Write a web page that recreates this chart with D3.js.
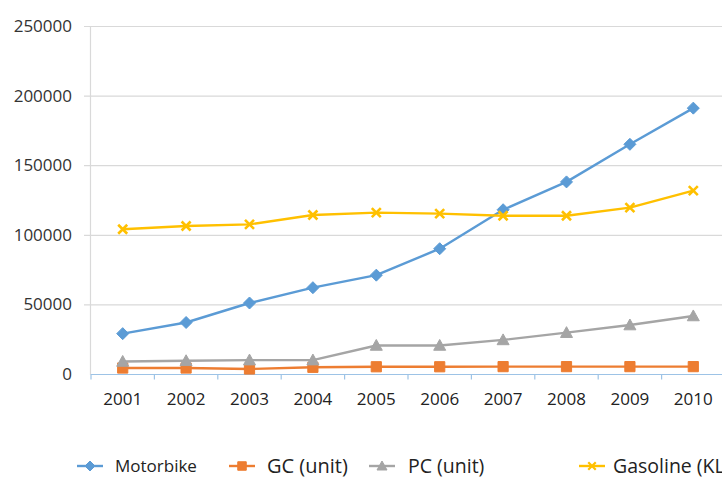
<!DOCTYPE html>
<html>
<head>
<meta charset="utf-8">
<script src="https://cdn.jsdelivr.net/npm/d3@7"></script>
<style>
  html, body { margin: 0; padding: 0; background: #fff; }
  svg { display: block; font-family: "Open Sans", "Noto Sans", sans-serif; }
</style>
</head>
<body>
<svg id="chart" width="722" height="479"></svg>
<script>
const years = ["2001","2002","2003","2004","2005","2006","2007","2008","2009","2010"];
const motorbike = [29000, 37000, 51000, 62000, 71000, 90000, 118000, 138000, 165000, 191000];
const gc = [4300, 4300, 3600, 4800, 5200, 5200, 5300, 5300, 5300, 5300];
const pc = [9000, 9500, 10000, 10000, 20500, 20500, 24500, 29700, 35200, 41700];
const gasoline = [104000, 106300, 107500, 114200, 115900, 115200, 113700, 113700, 119500, 131700];
const yTicks = [0, 50000, 100000, 150000, 200000, 250000];
const seriesNames = ["Motorbike", "GC (unit)", "PC (unit)", "Gasoline (KL)"];

const series = [
  { name: seriesNames[0], values: motorbike, color: "#5B9BD5", marker: "diamond" },
  { name: seriesNames[1], values: gc, color: "#ED7D31", marker: "square" },
  { name: seriesNames[2], values: pc, color: "#A5A5A5", marker: "triangle" },
  { name: seriesNames[3], values: gasoline, color: "#FFC000", marker: "x" }
];

const svg = d3.select("#chart");
const pLeft = 91, pRight = 725, pTop = 26, pBottom = 374;

const x = d3.scaleBand().domain(years).range([pLeft, pRight]);
const y = d3.scaleLinear().domain([0, 250000]).range([pBottom, pTop]);

// gridlines
svg.append("g").selectAll("line").data(yTicks.filter(d => d > 0)).join("line")
  .attr("x1", 84).attr("x2", 722)
  .attr("y1", d => y(d) + 0.5).attr("y2", d => y(d) + 0.5)
  .attr("stroke", "#d9d9d9").attr("stroke-width", 1.2);

// y axis line
svg.append("line").attr("x1", pLeft - 0.5).attr("x2", pLeft - 0.5)
  .attr("y1", pTop).attr("y2", pBottom + 1)
  .attr("stroke", "#d9d9d9").attr("stroke-width", 1.2);

// y tick labels
svg.append("g").selectAll("text").data(yTicks).join("text")
  .attr("x", 72).attr("y", d => y(d))
  .attr("dy", "0.35em").attr("text-anchor", "end")
  .attr("font-size", 17).attr("fill", "#333")
  .text(d => d);

// x axis
const xAxis = d3.axisBottom(x).tickSize(5).tickSizeOuter(0).tickPadding(13);
const gx = svg.append("g").attr("transform", `translate(0,${pBottom + 0.5})`);
gx.call(xAxis);
gx.select(".domain").attr("stroke", "#9DC3E6").attr("stroke-width", 1.2)
  .attr("d", `M${pLeft},0H722`);
gx.selectAll(".tick line").remove();
gx.selectAll("line.bt").data(years.map((d, i) => i)).join("line").attr("class", "bt")
  .attr("x1", i => x(years[i])).attr("x2", i => x(years[i]))
  .attr("y1", 0).attr("y2", 5)
  .attr("stroke", "#9DC3E6").attr("stroke-width", 1.2);
gx.selectAll(".tick text").attr("font-size", 17).attr("fill", "#222")
  .attr("font-family", "'Open Sans', sans-serif");

const cx = d => x(d) + x.bandwidth() / 2;

// markers
function markerPath(m, r) {
  const p = d3.path();
  if (m === "diamond") {
    p.moveTo(0, -r); p.lineTo(r, 0); p.lineTo(0, r); p.lineTo(-r, 0); p.closePath();
  } else if (m === "square") {
    const h = r * 0.85;
    p.rect(-h, -h, 2 * h, 2 * h);
  } else if (m === "triangle") {
    p.moveTo(0, -r); p.lineTo(r, r * 0.8); p.lineTo(-r, r * 0.8); p.closePath();
  } else {
    const h = r * 0.75;
    p.moveTo(-h, -h); p.lineTo(h, h); p.moveTo(h, -h); p.lineTo(-h, h);
  }
  return p.toString();
}

const line = d3.line().x((d, i) => cx(years[i])).y(d => y(d));

series.forEach(s => {
  svg.append("path").datum(s.values).attr("d", line)
    .attr("fill", "none").attr("stroke", s.color).attr("stroke-width", 2.4)
    .attr("stroke-linejoin", "round");
  svg.append("g").selectAll("path").data(s.values).join("path")
    .attr("transform", (d, i) => `translate(${cx(years[i])},${y(d)})`)
    .attr("d", markerPath(s.marker, 6))
    .attr("fill", s.marker === "x" ? "none" : s.color)
    .attr("stroke", s.color)
    .attr("stroke-width", s.marker === "x" ? 2.6 : 1);
});

// legend
const legendPos = [
  { lx: 90, tx: 115, fs: 17 },
  { lx: 242, tx: 267, fs: 20 },
  { lx: 382, tx: 408, fs: 19.5 },
  { lx: 592, tx: 613, fs: 19.5 }
];
const lg = svg.append("g");
series.forEach((s, i) => {
  const p = legendPos[i];
  const ly = 466;
  lg.append("line").attr("x1", p.lx - 13).attr("x2", p.lx + 13)
    .attr("y1", ly).attr("y2", ly).attr("stroke", s.color).attr("stroke-width", 2.4);
  lg.append("path").attr("transform", `translate(${p.lx},${ly})`)
    .attr("d", markerPath(s.marker, 5))
    .attr("fill", s.marker === "x" ? "none" : s.color)
    .attr("stroke", s.color).attr("stroke-width", s.marker === "x" ? 2.2 : 1);
  lg.append("text").attr("x", p.tx).attr("y", ly).attr("dy", "0.35em")
    .attr("font-size", p.fs).attr("fill", "#222").text(s.name);
});
</script>
</body>
</html>
